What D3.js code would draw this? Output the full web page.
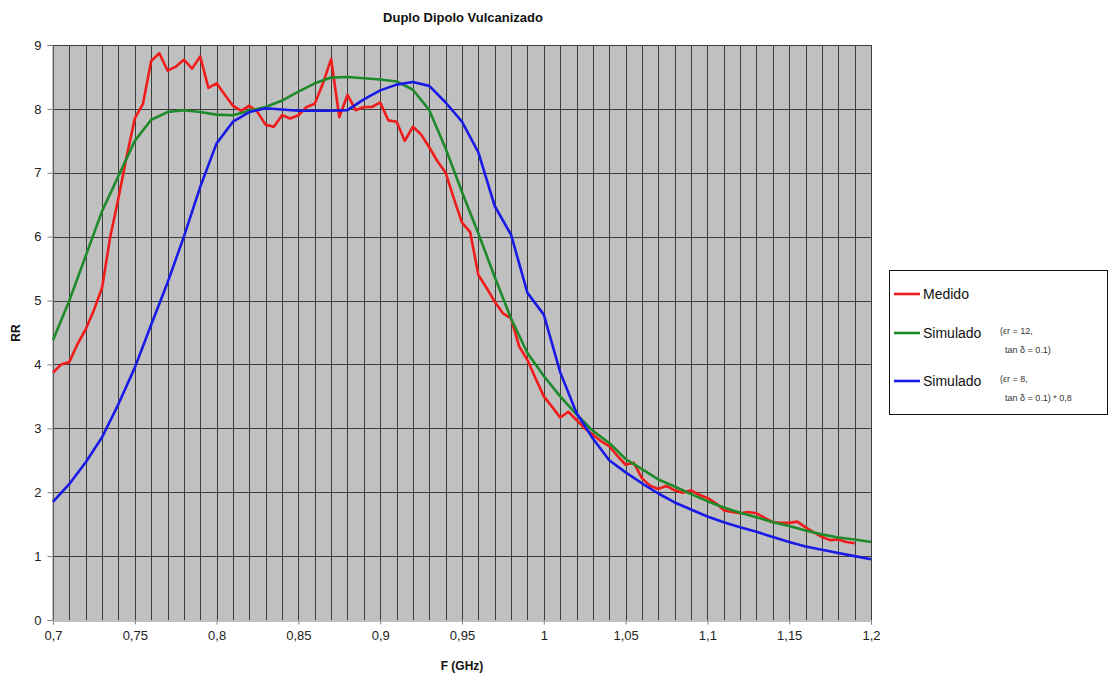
<!DOCTYPE html>
<html>
<head>
<meta charset="utf-8">
<script src="https://cdn.jsdelivr.net/npm/d3@7"></script>
<style>
  html, body { margin: 0; padding: 0; background: #ffffff; }
  svg { display: block; font-family: "Liberation Sans", Arial, sans-serif; }
</style>
</head>
<body>
<svg id="chart" width="1111" height="679"></svg>
<script>
// Frequency axis (GHz)
const freqMedido = d3.range(0, 99).map(i => +(0.7 + i * 0.005).toFixed(3));
const freqSim = d3.range(0, 51).map(i => +(0.7 + i * 0.01).toFixed(2));

// Measured RR
const rrMedido = [
  3.87, 4.00, 4.04, 4.32, 4.55, 4.85, 5.20, 6.00, 6.60, 7.25,
  7.85, 8.08, 8.75, 8.87, 8.60, 8.66, 8.77, 8.63, 8.82, 8.33,
  8.40, 8.22, 8.05, 7.97, 8.05, 7.95, 7.75, 7.72, 7.90, 7.85,
  7.90, 8.03, 8.08, 8.40, 8.78, 7.87, 8.22, 7.98, 8.03, 8.03,
  8.10, 7.82, 7.80, 7.50, 7.72, 7.60, 7.40, 7.18, 7.00, 6.60,
  6.22, 6.07, 5.40, 5.20, 4.98, 4.80, 4.72, 4.28, 4.07, 3.78,
  3.50, 3.34, 3.17, 3.26, 3.13, 3.00, 2.90, 2.80, 2.72, 2.57,
  2.43, 2.46, 2.22, 2.10, 2.05, 2.10, 2.03, 1.99, 2.03, 1.96,
  1.91, 1.83, 1.72, 1.69, 1.67, 1.69, 1.67, 1.60, 1.53, 1.52,
  1.52, 1.54, 1.45, 1.37, 1.30, 1.25, 1.26, 1.22, 1.20
];

// Simulated RR, εr = 12, tan δ = 0.1
const rrSim12 = [
  4.38, 5.00, 5.70, 6.40, 6.95, 7.50, 7.83, 7.95, 7.98, 7.95,
  7.91, 7.90, 7.97, 8.03, 8.13, 8.27, 8.40, 8.49, 8.50, 8.48,
  8.46, 8.43, 8.30, 7.98, 7.38, 6.70, 6.05, 5.37, 4.72, 4.18,
  3.82, 3.50, 3.22, 2.96, 2.77, 2.52, 2.36, 2.20, 2.09, 1.97,
  1.86, 1.76, 1.68, 1.61, 1.53, 1.47, 1.40, 1.34, 1.29, 1.26,
  1.22
];

// Simulated RR, εr = 8, tan δ = 0.1, scaled by 0.8
const rrSim8 = [
  1.85, 2.13, 2.47, 2.86, 3.38, 3.95, 4.62, 5.28, 6.00, 6.78,
  7.46, 7.80, 7.95, 8.01, 7.99, 7.97, 7.97, 7.97, 7.98, 8.15,
  8.29, 8.38, 8.42, 8.36, 8.10, 7.80, 7.32, 6.48, 6.03, 5.12,
  4.78, 3.88, 3.24, 2.84, 2.50, 2.31, 2.14, 1.98, 1.84, 1.73,
  1.62, 1.53, 1.45, 1.38, 1.30, 1.22, 1.15, 1.10, 1.05, 1.00,
  0.95
];

const xTicks = [0.7, 0.75, 0.8, 0.85, 0.9, 0.95, 1, 1.05, 1.1, 1.15, 1.2];
const yTicks = [0, 1, 2, 3, 4, 5, 6, 7, 8, 9];
const xGrid = d3.range(0, 51).map(i => +(0.7 + i * 0.01).toFixed(2));

const seriesNames = ["Medido", "Simulado", "Simulado"];
const seriesNotes = [[], ["(εr = 12,", "tan δ = 0.1)"], ["(εr = 8,", "tan δ = 0.1) * 0,8"]];
const seriesColors = ["#f01c1c", "#1e8a2a", "#1a1ae6"];

const svg = d3.select("#chart");
const plot = { left: 53, right: 871, top: 45, bottom: 620 };

const x = d3.scaleLinear().domain([0.7, 1.2]).range([plot.left, plot.right]);
const y = d3.scaleLinear().domain([0, 9]).range([plot.bottom, plot.top]);

const fmt = v => String(+v.toFixed(2)).replace(".", ",");

// Plot background
svg.append("rect")
  .attr("x", plot.left).attr("y", plot.top)
  .attr("width", plot.right - plot.left).attr("height", plot.bottom - plot.top)
  .attr("fill", "#c0c0c0");

// Grid lines
const grid = svg.append("g").attr("stroke", "#3c3c3c").attr("stroke-width", 1);
grid.selectAll("line.v").data(xGrid).join("line")
  .attr("class", "v")
  .attr("x1", d => Math.round(x(d)) + 0.5).attr("x2", d => Math.round(x(d)) + 0.5)
  .attr("y1", plot.top).attr("y2", plot.bottom);
grid.selectAll("line.h").data(yTicks.slice(1)).join("line")
  .attr("class", "h")
  .attr("x1", plot.left).attr("x2", plot.right)
  .attr("y1", d => Math.round(y(d)) + 0.5).attr("y2", d => Math.round(y(d)) + 0.5);

// Axes
const xAxis = svg.append("g")
  .attr("transform", `translate(0,${plot.bottom + 0.5})`)
  .call(d3.axisBottom(x).tickValues(xTicks).tickFormat(fmt).tickSize(4).tickPadding(6));
const yAxis = svg.append("g")
  .attr("transform", `translate(${plot.left - 0.5},0)`)
  .call(d3.axisLeft(y).tickValues(yTicks).tickFormat(fmt).tickSize(5).tickPadding(6));
[xAxis, yAxis].forEach(a => {
  a.selectAll("path, line").attr("stroke", "#808080");
  a.selectAll("text").attr("font-size", 13).attr("fill", "#222");
  a.select(".domain").attr("stroke", "#808080");
});

// Series lines
const line = d3.line().x(d => x(d[0])).y(d => y(d[1]));
const series = [
  freqMedido.map((f, i) => [f, rrMedido[i]]),
  freqSim.map((f, i) => [f, rrSim12[i]]),
  freqSim.map((f, i) => [f, rrSim8[i]])
];
svg.append("g").selectAll("path").data(series).join("path")
  .attr("d", line)
  .attr("fill", "none")
  .attr("stroke", (d, i) => seriesColors[i])
  .attr("stroke-width", 2.6)
  .attr("stroke-linejoin", "round");

// Titles
svg.append("text")
  .attr("x", 463).attr("y", 22)
  .attr("text-anchor", "middle")
  .attr("font-size", 13).attr("font-weight", "bold").attr("fill", "#111")
  .text("Duplo Dipolo Vulcanizado");
svg.append("text")
  .attr("x", 462).attr("y", 670)
  .attr("text-anchor", "middle")
  .attr("font-size", 12).attr("font-weight", "bold").attr("fill", "#111")
  .text("F (GHz)");
svg.append("text")
  .attr("transform", "translate(20,333) rotate(-90)")
  .attr("text-anchor", "middle")
  .attr("font-size", 12).attr("font-weight", "bold").attr("fill", "#111")
  .text("RR");

// Legend
const legend = svg.append("g");
legend.append("rect")
  .attr("x", 889.5).attr("y", 270.5).attr("width", 218).attr("height", 144)
  .attr("fill", "#fff").attr("stroke", "#111").attr("stroke-width", 1);
const rowsY = [294, 333, 381];
const item = legend.selectAll("g.item").data(seriesNames).join("g").attr("class", "item");
item.append("line")
  .attr("x1", 894).attr("x2", 920)
  .attr("y1", (d, i) => rowsY[i]).attr("y2", (d, i) => rowsY[i])
  .attr("stroke", (d, i) => seriesColors[i]).attr("stroke-width", 2.6);
item.append("text")
  .attr("x", 923).attr("y", (d, i) => rowsY[i] + 5)
  .attr("font-size", 14).attr("fill", "#111")
  .text(d => d);
item.each(function(d, i) {
  const notes = seriesNotes[i];
  d3.select(this).selectAll("text.note").data(notes).join("text")
    .attr("class", "note")
    .attr("x", (n, j) => j === 0 ? 1000 : 1005)
    .attr("y", (n, j) => rowsY[i] + 1 + j * 19)
    .attr("font-size", 9).attr("fill", "#333")
    .text(n => n);
});
</script>
</body>
</html>
